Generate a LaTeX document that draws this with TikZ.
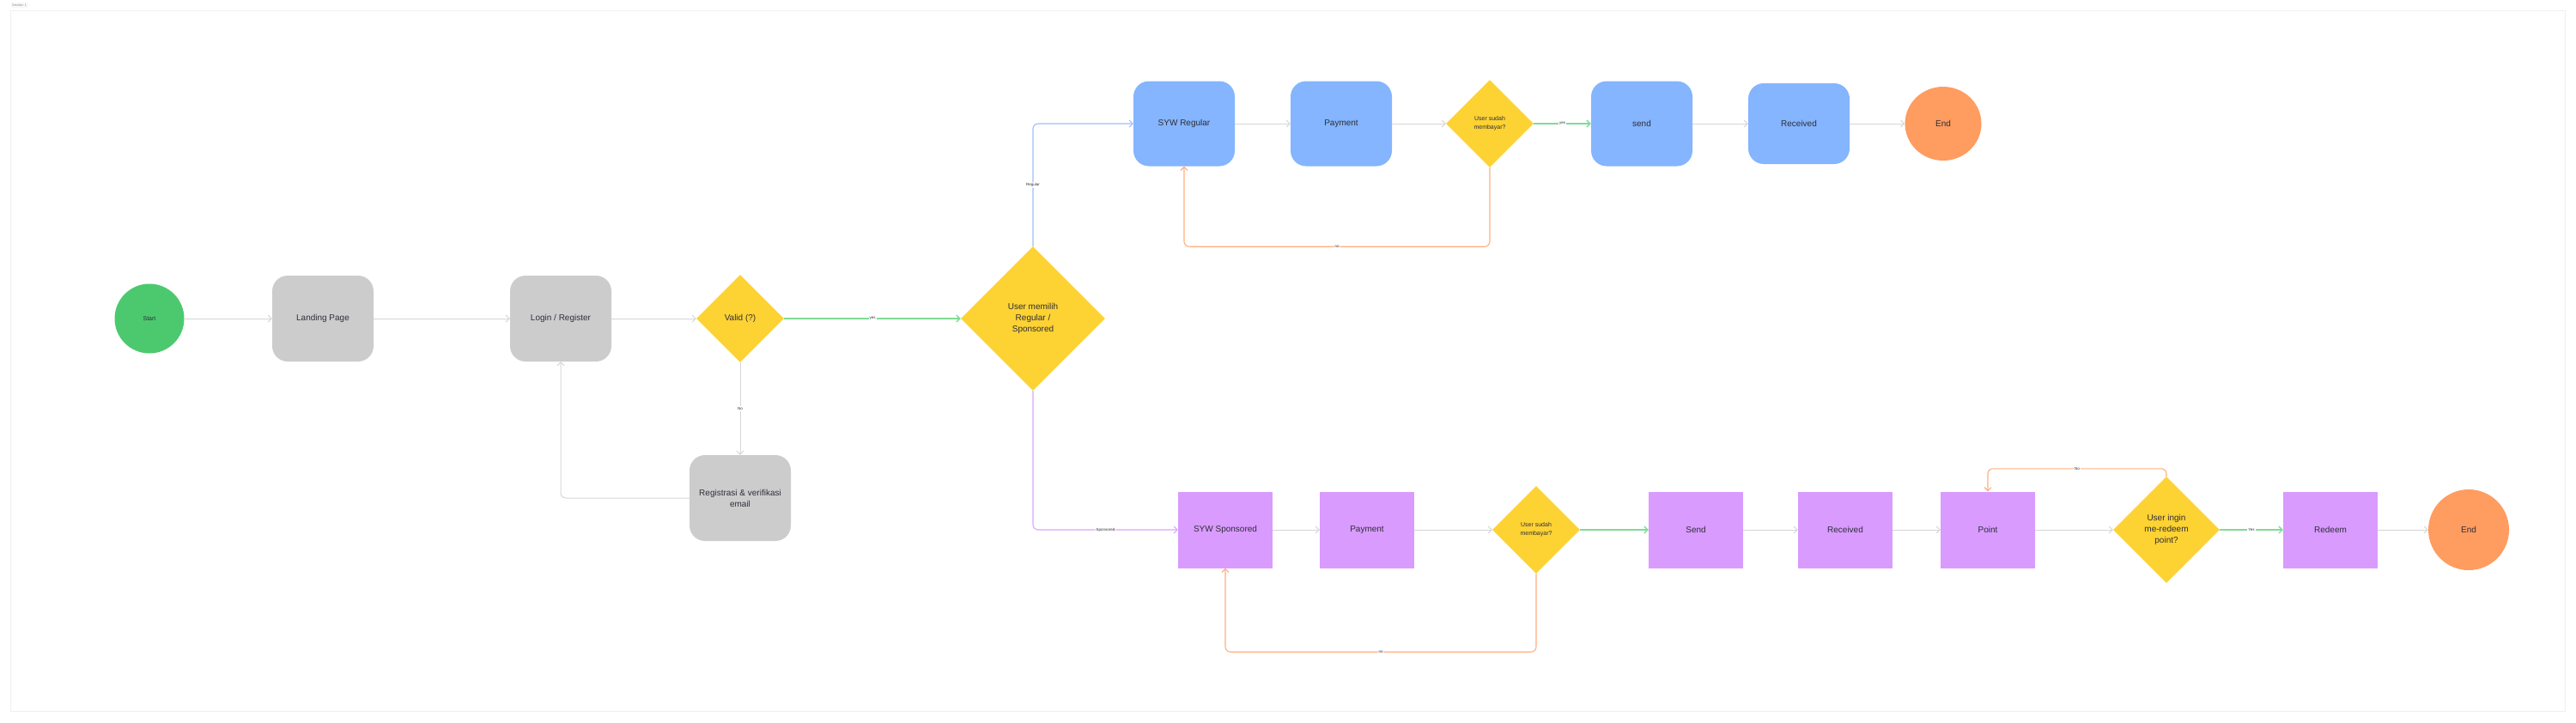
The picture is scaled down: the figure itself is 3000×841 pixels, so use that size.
\documentclass[tikz,border=0pt]{standalone}
\usepackage{fontspec}
\setmainfont{Liberation Sans}
\usetikzlibrary{shapes.geometric, arrows.meta}

\definecolor{startgreen}{HTML}{4CC96E}
\definecolor{pagegray}{HTML}{CDCCCD}
\definecolor{askyellow}{HTML}{FDD233}
\definecolor{regblue}{HTML}{84B5FE}
\definecolor{sppurple}{HTML}{D99BFE}
\definecolor{endorange}{HTML}{FF9C60}
\definecolor{inkgray}{HTML}{2E2E38}
\definecolor{linegray}{HTML}{D6D6D8}
\definecolor{linegreen}{HTML}{7FDB97}
\definecolor{lineorange}{HTML}{FFAE7E}
\definecolor{lineblue}{HTML}{9CBFFB}
\definecolor{linepurple}{HTML}{D8A6FB}

\begin{document}
\begin{tikzpicture}[
	x=1pt, y=-1pt,
	>={Straight Barb[length=4pt,width=8pt]},
	font=\fontsize{10}{13}\selectfont,
	text=inkgray,
	terminal/.style={
		ellipse,
		align=center,
		inner sep=0pt,
		font=\fontsize{10}{13}\selectfont
	},
	page/.style={
		rectangle,
		align=center,
		rounded corners=18pt,
		fill=pagegray,
		inner sep=0pt,
		minimum height=100pt,
		minimum width=118pt
	},
	regular/.style={
		rectangle,
		align=center,
		rounded corners=18pt,
		fill=regblue,
		inner sep=0pt,
		minimum height=99pt,
		minimum width=118pt
	},
	sponsored/.style={
		rectangle,
		align=center,
		fill=sppurple,
		inner sep=0pt,
		minimum height=89pt,
		minimum width=110pt
	},
	decision/.style={
		diamond,
		aspect=1,
		align=center,
		fill=askyellow,
		inner sep=0pt
	},
	edgelabel/.style={
		fill=white,
		inner sep=1pt,
		text=inkgray,
		font=\fontsize{4.5}{5}\selectfont
	},
	flow/.style={line width=1pt, draw=linegray, ->},
	yesflow/.style={line width=1.3pt, draw=linegreen, ->},
	noflow/.style={line width=1.1pt, draw=lineorange, ->, rounded corners=6pt},
]

\useasboundingbox (0,0) rectangle (3000,841);

\draw[draw=gray!12, line width=0.8pt] (12,12) rectangle (2987,828);
\node[draw=gray!20, rounded corners=1pt, inner sep=1pt, anchor=north west,
	font=\fontsize{4}{5}\selectfont, text=gray] (section) at (13,3) {Section 1};

% login part
\node[terminal, fill=startgreen, minimum width=81pt, minimum height=81pt,
	font=\fontsize{7}{9}\selectfont] (start) at (174,371) {Start};
\node[page] (landing) at (376,371) {Landing Page};
\node[page] (login) at (653,371) {Login / Register};
\node[decision, minimum width=102pt, minimum height=102pt] (valid) at (862,371) {Valid (?)};
\node[page] (regis) at (862,580) {Registrasi \& verifikasi\\email};
\node[decision, minimum width=168pt, minimum height=168pt] (choice) at (1203,371)
	{User memilih\\Regular /\\Sponsored};

\draw[flow] (start.east) -- (landing.west);
\draw[flow] (landing.east) -- (login.west);
\draw[flow] (login.east) -- (valid.west);
\draw[yesflow] (valid.east) -- (choice.west) node[edgelabel, midway] {yes};
\draw[flow] (valid.south) -- (regis.north) node[edgelabel, midway] {No};
\draw[flow, rounded corners=6pt] (regis.west) -| (login.south);

% regular branch
\node[regular] (sywreg) at (1379,144) {SYW Regular};
\node[regular] (payreg) at (1562,144) {Payment};
\node[decision, minimum width=102pt, minimum height=102pt,
	font=\fontsize{7}{10}\selectfont] (paidreg) at (1735,144) {User sudah\\membayar?};
\node[regular] (sendreg) at (1912,144) {send};
\node[regular, minimum height=94pt] (recreg) at (2095,144) {Received};
\node[terminal, fill=endorange, minimum width=89pt, minimum height=86pt] (endreg) at (2263,144) {End};

\draw[line width=1.1pt, draw=lineblue, ->, rounded corners=6pt] (choice.north) |- (sywreg.west)
	node[edgelabel, pos=0.25] {Regular};
\draw[flow] (sywreg.east) -- (payreg.west);
\draw[flow] (payreg.east) -- (paidreg.west);
\draw[yesflow] (paidreg.east) -- (sendreg.west) node[edgelabel, midway] {yes};
\draw[flow] (sendreg.east) -- (recreg.west);
\draw[flow] (recreg.east) -- (endreg.west);
\draw[noflow] (paidreg.south) -- ++(0,92) -| (sywreg.south) node[edgelabel, pos=0.25] {no};

% sponsored branch
\node[sponsored] (sywsp) at (1427,617) {SYW Sponsored};
\node[sponsored] (paysp) at (1592,617) {Payment};
\node[decision, minimum width=102pt, minimum height=102pt,
	font=\fontsize{7}{10}\selectfont] (paidsp) at (1789,617) {User sudah\\membayar?};
\node[sponsored] (sendsp) at (1975,617) {Send};
\node[sponsored] (recsp) at (2149,617) {Received};
\node[sponsored] (point) at (2315,617) {Point};
\node[decision, minimum width=124pt, minimum height=124pt] (redeemq) at (2523,617)
	{User ingin\\me-redeem\\point?};
\node[sponsored] (redeem) at (2714,617) {Redeem};
\node[terminal, fill=endorange, minimum width=94pt, minimum height=94pt] (endsp) at (2875,617) {End};

\draw[line width=1.1pt, draw=linepurple, ->, rounded corners=6pt] (choice.south) |- (sywsp.west)
	node[edgelabel, pos=0.75] {Sponsored};
\draw[flow] (sywsp.east) -- (paysp.west);
\draw[flow] (paysp.east) -- (paidsp.west);
\draw[yesflow] (paidsp.east) -- (sendsp.west);
\draw[flow] (sendsp.east) -- (recsp.west);
\draw[flow] (recsp.east) -- (point.west);
\draw[flow] (point.east) -- (redeemq.west);
\draw[yesflow] (redeemq.east) -- (redeem.west) node[edgelabel, midway] {Yes};
\draw[flow] (redeem.east) -- (endsp.west);
\draw[noflow] (paidsp.south) -- ++(0,91) -| (sywsp.south) node[edgelabel, pos=0.25] {no};
\draw[noflow] (redeemq.north) -- ++(0,-9) -| (point.north) node[edgelabel, pos=0.25] {No};

\end{tikzpicture}
\end{document}
